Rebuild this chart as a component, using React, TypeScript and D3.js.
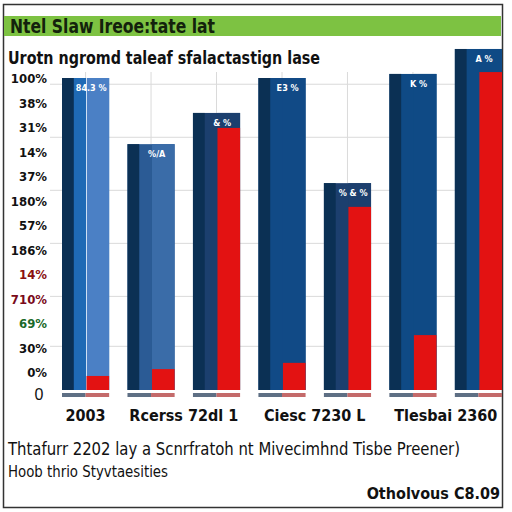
import * as d3 from 'd3';

// chart values
const categories = ['2003', 'Rcerss 72dl 1', 'Ciesc 7230 L', 'Tlesbai 2360'];
const barGroup = [0, 1, 1, 2, 2, 3, 3];
const blueValues = [100, 78.8, 88.8, 100, 66.3, 101.3, 109.3];
const redValues = [4.5, 6.7, 84, 8.7, 58.7, 17.6, 101.9];
const barTags = ['84.3 %', '%/A', '& %', 'E3 %', '% & %', 'K %', 'A %'];
const yTickLabels = ['100%', '38%', '31%', '14%', '37%', '180%', '57%', '186%', '14%', '710%', '69%', '30%', '0%'];
const yTickColors = ['#111', '#111', '#111', '#111', '#111', '#111', '#111', '#111', '#8a1010', '#7a0a1a', '#1a6a2a', '#111', '#111'];
const gridValues = [14, 30, 47, 64, 81, 98];

const title = 'Ntel Slaw Ireoe:tate lat';
const subtitle = 'Urotn ngromd taleaf sfalactastign lase';
const footer1 = 'Thtafurr 2202  lay a Scnrfratoh nt Mivecimhnd  Tisbe Preener)';
const footer2 = 'Hoob thrio Styvtaesities';
const footer3 = 'Otholvous C8.09';

const bodyColors = ['#1f6ab5', '#2b5b95', '#1b3f6e', '#114a86', '#1c3f6e', '#0f4a85', '#0f4a85'];
const rightColors = ['#4b80c5', '#3a6ca8', '#1b3f6e', '#114a86', '#1c3f6e', '#0f4a85', '#0f4a85'];
const FONT = "'Liberation Sans Narrow', 'DejaVu Sans Condensed', 'Liberation Sans', sans-serif";

export default function App() {
  const x = d3.scaleBand<number>()
    .domain(d3.range(blueValues.length))
    .range([62, 502])
    .paddingInner(0.28);
  const y = d3.scaleLinear().domain([0, 100]).range([390, 78]);
  const labelY = d3.scalePoint<string>()
    .domain(yTickLabels.map((_, i) => String(i)))
    .range([78, 372]);
  const bw = x.bandwidth();

  const groupCenter = (g: number) => {
    const idx = barGroup.map((v, i) => (v === g ? i : -1)).filter(i => i >= 0);
    const x0 = x(idx[0])!;
    const x1 = x(idx[idx.length - 1])! + bw;
    return (x0 + x1) / 2;
  };

  return (
    <svg width={512} height={512} style={{ position: 'absolute', left: 0, top: 0 }} fontFamily={FONT}>
      <rect x={0} y={0} width={512} height={512} fill="#fff" />
      <rect x={3.5} y={4.5} width={499} height={503} fill="#fff" stroke="#333" strokeWidth={1.5} />
      <rect x={4} y={16} width={497} height={20} fill="#7dc242" />
      <text x={10} y={33} fontSize={19} fontWeight="bold" fill="#13220c" textLength={205} lengthAdjust="spacingAndGlyphs">{title}</text>
      <text x={8} y={64} fontSize={17} fontWeight="bold" fill="#111" textLength={312} lengthAdjust="spacingAndGlyphs">{subtitle}</text>

      {/* grid */}
      <g stroke="#dadada" strokeWidth={1}>
        {gridValues.map(v => (
          <line key={v} x1={50} x2={500} y1={y(v)} y2={y(v)} />
        ))}
        {blueValues.map((_, i) => (
          <line key={'v' + i} x1={x(i)! + bw / 2} x2={x(i)! + bw / 2} y1={72} y2={390} />
        ))}
      </g>

      {/* y tick labels */}
      {yTickLabels.map((t, i) => (
        <text key={i} x={47} y={labelY(String(i))! + 5} textAnchor="end" fontSize={13} fontWeight="bold" fill={yTickColors[i]}>{t}</text>
      ))}
      <text x={39} y={400} textAnchor="middle" fontSize={16} fill="#111" fontFamily="'Liberation Sans', sans-serif">0</text>

      {/* bars */}
      {blueValues.map((v, i) => {
        const x0 = x(i)!;
        const top = y(v);
        const h = y(0) - top;
        const darkW = bw * 0.25;
        const redX = x0 + bw * 0.52;
        const redTop = y(redValues[i]);
        return (
          <g key={i}>
            <rect x={x0} y={top} width={bw} height={h} fill={bodyColors[i]} />
            <rect x={redX} y={top} width={x0 + bw - redX} height={h} fill={rightColors[i]} />
            <rect x={x0} y={top} width={darkW} height={h} fill="#0b3054" />
            {i === 0 && <line x1={redX} x2={redX} y1={top} y2={y(0)} stroke="#cfe0f4" strokeWidth={1} />}
            <rect x={redX} y={redTop} width={x0 + bw - redX} height={y(0) - redTop} fill="#e31212" />
            <rect x={x0} y={393} width={bw / 2} height={4} fill="#5e6f84" />
            <rect x={x0 + bw / 2} y={393} width={bw / 2} height={4} fill="#c46a6a" />
            <text x={x0 + bw * 0.62} y={top + 13} textAnchor="middle" fontSize={9} fontWeight="bold" fill="#fff">{barTags[i]}</text>
          </g>
        );
      })}

      {/* category labels */}
      {categories.map((c, g) => (
        <text key={c} x={groupCenter(g)} y={421} textAnchor="middle" fontSize={16} fontWeight="bold" fill="#111">{c}</text>
      ))}

      <text x={8} y={455} fontSize={17} fill="#111" textLength={452} lengthAdjust="spacingAndGlyphs">{footer1}</text>
      <text x={8} y={477} fontSize={16} fill="#111" textLength={160} lengthAdjust="spacingAndGlyphs">{footer2}</text>
      <text x={500} y={499} textAnchor="end" fontSize={16} fontWeight="bold" fill="#111">{footer3}</text>
    </svg>
  );
}
